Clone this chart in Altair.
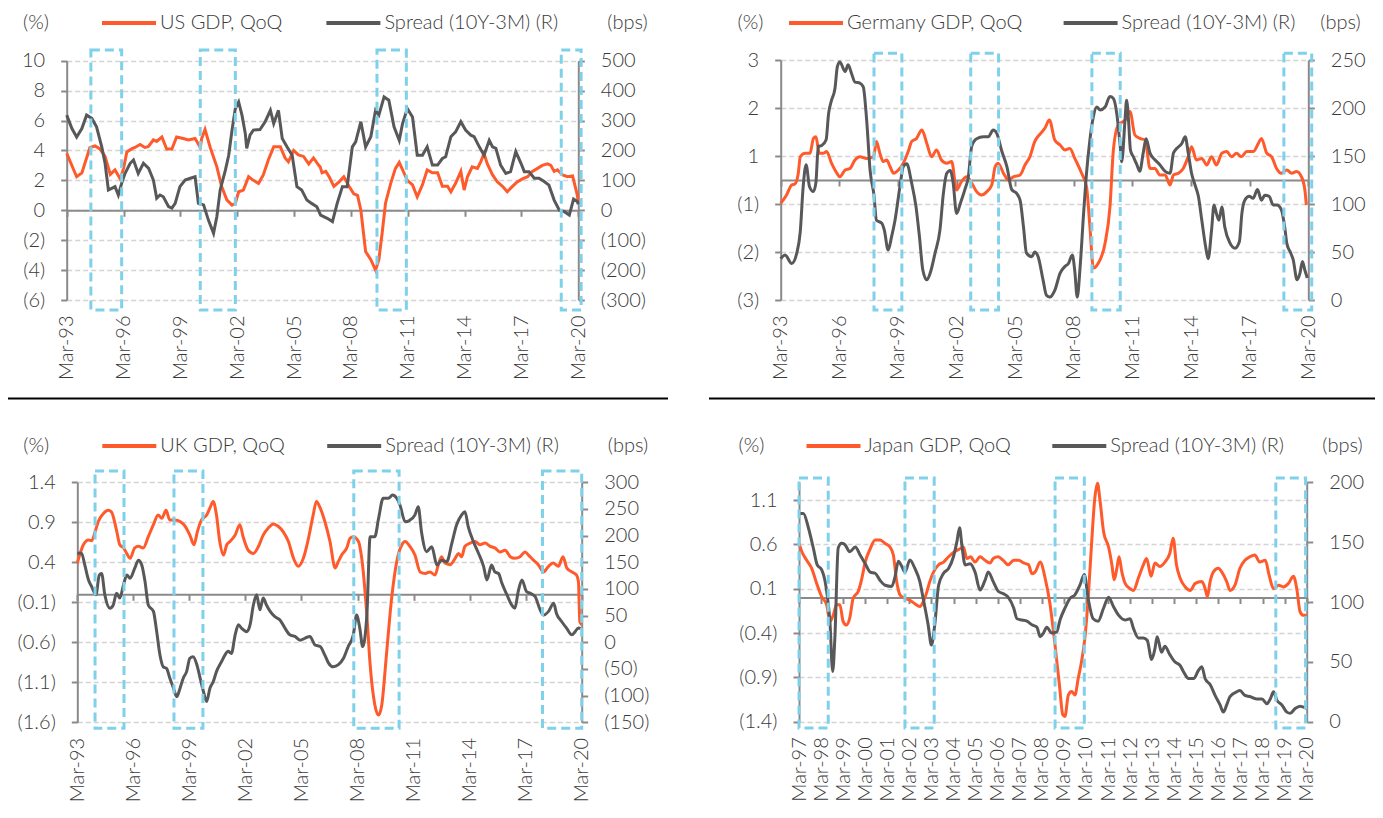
import altair as alt
import pandas as pd

# ---------------- data (quarter index since first label, value) ----------------
X_LABELS_3Y = ['Mar-93', 'Mar-96', 'Mar-99', 'Mar-02', 'Mar-05', 'Mar-08',
               'Mar-11', 'Mar-14', 'Mar-17', 'Mar-20']
X_LABELS_JP = ['Mar-97', 'Mar-98', 'Mar-99', 'Mar-00', 'Mar-01', 'Mar-02', 'Mar-03',
               'Mar-04', 'Mar-05', 'Mar-06', 'Mar-07', 'Mar-08', 'Mar-09', 'Mar-10',
               'Mar-11', 'Mar-12', 'Mar-13', 'Mar-14', 'Mar-15', 'Mar-16', 'Mar-17',
               'Mar-18', 'Mar-19', 'Mar-20']

US_GDP = [(0, 3.8), (2.1, 2.24), (3.2, 2.5), (4.9, 4.2), (6.0, 4.3), (7.0, 4.1), (8.1, 3.6),
          (9.2, 2.4), (10.2, 2.7), (11.3, 2.1), (12.0, 2.8), (12.7, 3.9), (13.7, 4.1),
          (14.4, 4.2), (15.5, 4.4), (16.5, 4.2), (17.2, 4.25), (18.3, 4.7), (19.0, 4.6),
          (20.1, 4.9), (21.1, 4.1), (22.2, 4.1), (23.2, 4.9), (24.6, 4.8), (25.7, 4.7),
          (27.1, 4.8), (28.2, 4.2), (28.5, 4.8), (29.2, 5.4), (30.3, 4.2), (31.7, 2.9),
          (32.7, 1.6), (33.8, 0.7), (34.9, 0.35), (35.6, 0.47), (36.3, 1.24), (37.3, 1.35),
          (38.4, 2.24), (39.4, 2.0), (40.5, 1.8), (41.5, 2.36), (42.6, 3.4), (43.7, 4.24),
          (45.1, 4.24), (46.1, 3.5), (46.8, 3.24), (47.9, 4.0), (48.9, 3.7), (50.0, 3.6),
          (51.1, 3.1), (52.1, 3.5), (53.2, 3.0), (53.5, 2.9), (53.9, 2.5), (54.7, 2.6),
          (55.4, 2.24), (56.4, 1.6), (57.5, 1.9), (58.5, 2.24), (59.6, 1.6), (60.6, 1.1),
          (61.4, 1.0), (62.1, 0.0), (63.1, -2.76), (64.2, -3.3), (65.2, -4.0), (65.9, -3.3),
          (66.6, -1.5), (67.3, 0.47), (68.4, 1.8), (69.4, 2.8), (70.2, 3.2), (71.2, 2.5),
          (71.9, 2.0), (73.0, 1.7), (74.0, 0.9), (75.1, 1.7), (76.1, 2.7), (77.2, 2.5),
          (78.3, 2.5), (79.3, 1.6), (80.4, 1.6), (81.1, 1.24), (82.1, 1.8), (83.2, 2.6),
          (83.9, 1.35), (84.6, 2.24), (85.6, 2.9), (86.7, 2.8), (87.4, 3.24), (88.1, 3.8),
          (88.8, 3.1), (89.9, 2.36), (90.9, 1.9), (92.0, 1.6), (93.0, 1.24), (94.1, 1.6),
          (95.1, 1.9), (96.2, 2.1), (97.3, 2.24), (98.3, 2.6), (99.4, 2.8), (100.4, 3.0),
          (101.5, 3.1), (102.2, 3.0), (102.9, 2.6), (103.6, 2.7), (104.7, 2.36),
          (105.7, 2.24), (106.8, 2.3), (107.8, 1.0), (108.0, 0.5)]
US_SPREAD = [(0, 318), (1.1, 273), (2.1, 245), (3.2, 273), (4.2, 318), (5.3, 307), (6.3, 279),
             (7.4, 212), (8.1, 157), (8.8, 68), (9.5, 73), (10.2, 79), (10.9, 51), (11.6, 90),
             (12.3, 123), (13.4, 157), (14.1, 168), (15.1, 123), (16.2, 157), (17.3, 140),
             (18.3, 101), (19.0, 40), (19.7, 51), (20.4, 45), (21.5, 12), (22.2, 7), (22.9, 23),
             (23.9, 79), (25.0, 101), (26.1, 107), (27.1, 112), (27.8, 23), (28.9, 18),
             (29.9, -32), (31.0, -77), (31.7, -21), (32.4, 68), (33.5, 134), (34.2, 184),
             (34.9, 268), (35.6, 340), (36.3, 362), (37.0, 318), (37.7, 257), (38.0, 207),
             (38.7, 251), (39.4, 268), (40.8, 270), (41.9, 296), (43.0, 334), (43.7, 290),
             (44.7, 334), (45.5, 240), (46.5, 212), (47.6, 184), (48.6, 79), (49.6, 68),
             (50.7, 34), (51.7, 23), (52.8, 12), (53.6, -16), (55.0, -27), (56.1, -38),
             (57.1, 23), (58.2, 79), (59.2, 79), (60.3, 212), (61.0, 229), (62.1, 296),
             (63.1, 212), (64.2, 246), (65.2, 334), (65.9, 318), (67.0, 379), (68.0, 368),
             (69.1, 279), (70.2, 234), (70.9, 290), (71.9, 340), (73.0, 312), (74.0, 184),
             (75.1, 184), (76.1, 212), (77.2, 151), (78.3, 151), (79.3, 173), (80.0, 179),
             (81.1, 246), (82.1, 262), (83.2, 296), (84.2, 268), (85.3, 251), (86.0, 246),
             (87.1, 212), (88.1, 184), (89.2, 234), (89.9, 212), (90.6, 207), (91.6, 151),
             (92.7, 123), (93.7, 129), (94.8, 196), (95.9, 157), (96.6, 129), (97.6, 129),
             (98.7, 107), (99.7, 107), (100.8, 96), (101.8, 84), (102.9, 34), (104.0, 0),
             (105.0, -4), (106.1, -16), (107.0, 37), (107.8, 29), (108.0, 20)]
US_BOX_START = [5.1, 28.2, 65.5, 104.4]
US_BOX_END = [11.6, 35.6, 71.7, 108.6]

DE_GDP = [(0, -0.58), (1.2, -0.375), (2.25, -0.125), (2.9, -0.1), (3.6, 0.17), (4.0, 0.58),
          (5.0, 0.67), (6.0, 0.67), (6.7, 1.04), (7.2, 1.08), (7.9, 0.67), (8.7, 0.67),
          (9.4, 0.71), (10.4, 0.42), (11.5, 0.17), (12.1, 0.08), (13.2, 0.25), (14.2, 0.29),
          (15.2, 0.5), (16.2, 0.58), (17.6, 0.54), (19.0, 0.58), (19.6, 0.96), (20.3, 0.67),
          (21.0, 0.46), (21.7, 0.5), (22.4, 0.33), (23.1, 0.17), (24.1, 0.25), (25.1, 0.42),
          (26.1, 0.71), (26.8, 0.96), (27.8, 1.04), (28.9, 1.25), (29.9, 0.92), (30.9, 0.58),
          (31.9, 0.75), (32.9, 0.5), (34.0, 0.42), (35.0, 0.46), (36.0, -0.25), (37.0, -0.04),
          (38.1, 0.08), (39.1, -0.08), (40.1, -0.29), (41.1, -0.375), (42.2, -0.29),
          (43.2, -0.125), (43.9, 0.33), (44.5, 0.42), (45.6, 0.17), (46.6, 0.0), (47.6, 0.08),
          (49.0, 0.125), (50.0, 0.375), (51.0, 0.58), (52.0, 0.96), (53.1, 1.15), (54.1, 1.3),
          (55.0, 1.5), (56.1, 1.0), (57.2, 0.875), (58.2, 0.75), (59.2, 0.79), (60.2, 0.54),
          (61.6, 0.17), (62.6, -0.17), (63.3, -1.17), (64.0, -2.2), (65.0, -2.08),
          (66.4, -1.58), (67.4, -0.67), (68.1, 0.75), (69.1, 1.375), (70.5, 1.5), (71.5, 1.71),
          (72.5, 1.125), (73.5, 1.04), (74.6, 1.0), (75.6, 0.29), (76.6, 0.29), (77.6, 0.125),
          (78.7, 0.125), (79.7, -0.125), (80.4, 0.125), (81.4, 0.17), (82.4, 0.29),
          (83.4, 0.58), (84.1, 0.83), (85.1, 0.5), (86.2, 0.54), (87.2, 0.375), (88.2, 0.58),
          (89.2, 0.375), (90.3, 0.67), (91.3, 0.71), (92.3, 0.58), (93.3, 0.67), (94.3, 0.58),
          (95.4, 0.71), (96.7, 0.71), (97.8, 0.92), (98.4, 1.04), (99.5, 0.67), (100.5, 0.58),
          (101.5, 0.29), (102.5, 0.17), (103.6, 0.25), (104.6, 0.17), (105.6, 0.21),
          (106.6, 0.08), (107.3, -0.25), (107.6, -0.625)]
DE_SPREAD = [(0, 43), (0.9, 47), (2.25, 38), (3.3, 49), (4.0, 71), (4.6, 118), (5.2, 141),
             (5.9, 118), (6.7, 113), (7.2, 122), (7.7, 160), (8.4, 161), (9.3, 167), (9.8, 194),
             (10.4, 208), (11.1, 220), (11.6, 243), (12.1, 248), (13.2, 238), (13.8, 245),
             (14.5, 236), (15.2, 227), (16.2, 226), (16.9, 222), (17.6, 187), (18.3, 135),
             (19.1, 109), (19.6, 83), (20.7, 80), (21.2, 73), (22.0, 52), (22.7, 66), (23.4, 83),
             (24.4, 118), (25.1, 139), (25.8, 142), (26.8, 122), (27.7, 97), (28.4, 66),
             (29.1, 31), (29.9, 21), (30.6, 28), (31.6, 49), (32.6, 73), (33.3, 111),
             (34.0, 132), (34.7, 135), (35.3, 122), (36.0, 90), (36.8, 101), (37.7, 115),
             (38.4, 128), (39.1, 160), (40.1, 168), (41.5, 170), (42.5, 170), (43.5, 177),
             (44.2, 174), (45.2, 156), (46.3, 139), (47.3, 115), (48.3, 111), (49.0, 104),
             (49.7, 76), (50.3, 49), (51.4, 45), (52.0, 50), (52.7, 45), (53.7, 21), (54.4, 5),
             (55.1, 3), (56.1, 10), (57.2, 28), (58.2, 35), (58.9, 38), (59.7, 47), (60.2, 30),
             (60.7, 3), (61.3, 35), (62.0, 90), (62.6, 132), (63.3, 167), (64.0, 191),
             (64.7, 201), (65.4, 198), (66.4, 201), (67.4, 212), (68.1, 210), (68.8, 194),
             (69.5, 160), (69.8, 144), (70.5, 189), (70.8, 208), (71.2, 187), (71.6, 156),
             (72.2, 149), (72.9, 141), (73.5, 134), (74.2, 153), (74.8, 168), (75.6, 153),
             (76.6, 146), (77.6, 141), (78.7, 134), (79.7, 132), (80.4, 153), (81.1, 158),
             (82.1, 163), (82.8, 170), (83.4, 154), (84.1, 132), (84.8, 120), (85.5, 108),
             (86.2, 83), (87.0, 55), (87.5, 43), (88.2, 73), (88.7, 99), (89.2, 90), (89.7, 83),
             (90.3, 97), (90.9, 76), (92.0, 59), (93.0, 54), (93.9, 61), (94.4, 90), (95.0, 104),
             (95.9, 108), (96.7, 106), (97.6, 115), (98.4, 104), (99.1, 109), (100.0, 108),
             (100.8, 99), (101.6, 99), (102.5, 94), (103.2, 75), (103.6, 59), (104.4, 49),
             (104.9, 42), (105.7, 21), (106.3, 28), (106.8, 40), (107.3, 31), (107.8, 23)]
DE_BOX_START = [19.1, 38.9, 63.7, 103.0]
DE_BOX_END = [24.8, 44.6, 69.5, 108.7]

UK_GDP = [(0, 0.39), (0.6, 0.51), (1.3, 0.62), (2.4, 0.68), (3.1, 0.67), (3.8, 0.78), (4.5, 0.91),
          (5.6, 1.01), (6.6, 1.05), (7.3, 1.03), (8.4, 0.8), (9.1, 0.62), (9.9, 0.58),
          (10.6, 0.51), (11.3, 0.45), (12.3, 0.58), (13.1, 0.6), (14.1, 0.58), (15.2, 0.72),
          (16.3, 0.87), (17.3, 0.99), (18.1, 0.95), (19.0, 1.05), (19.8, 0.93), (20.9, 0.93),
          (22.0, 0.91), (23.1, 0.85), (24.1, 0.74), (25.0, 0.62), (25.7, 0.78), (26.6, 0.93),
          (27.7, 0.99), (28.4, 1.08), (29.1, 1.16), (29.8, 0.99), (30.5, 0.66), (31.3, 0.49),
          (32.0, 0.62), (32.7, 0.66), (33.8, 0.74), (34.8, 0.87), (35.5, 0.72), (36.6, 0.55),
          (37.7, 0.51), (38.8, 0.6), (39.8, 0.74), (40.9, 0.83), (42.0, 0.88), (43.0, 0.85),
          (44.1, 0.78), (45.2, 0.66), (46.3, 0.45), (47.3, 0.35), (48.4, 0.45), (49.5, 0.7),
          (50.5, 0.99), (51.2, 1.16), (52.0, 1.08), (53.0, 0.91), (54.1, 0.66), (55.2, 0.33),
          (55.9, 0.41), (56.6, 0.49), (57.7, 0.58), (58.4, 0.7), (59.1, 0.72), (60.2, 0.66),
          (60.9, 0.45), (62.0, -0.26), (62.7, -0.88), (63.7, -1.38), (64.5, -1.51),
          (65.2, -1.38), (66.2, -0.75), (67.3, -0.05), (68.4, 0.41), (69.5, 0.62), (70.2, 0.66),
          (71.2, 0.6), (72.3, 0.49), (73.4, 0.28), (74.5, 0.26), (75.5, 0.28), (76.6, 0.24),
          (77.3, 0.37), (78.0, 0.47), (78.7, 0.39), (79.8, 0.37), (80.9, 0.45), (81.6, 0.51),
          (82.3, 0.47), (83.0, 0.6), (84.1, 0.64), (85.2, 0.66), (86.2, 0.62), (87.3, 0.64),
          (88.4, 0.6), (89.4, 0.58), (90.5, 0.53), (91.6, 0.55), (92.7, 0.47), (93.7, 0.45),
          (94.8, 0.47), (95.9, 0.53), (96.6, 0.49), (97.6, 0.43), (98.7, 0.37), (99.8, 0.28),
          (100.9, 0.35), (101.9, 0.39), (103.0, 0.35), (104.0, 0.47), (104.8, 0.33),
          (105.9, 0.28), (106.9, 0.24), (107.3, 0.16), (107.6, -0.34), (108.0, -0.38)]
UK_SPREAD = [(0, 167), (0.9, 167), (1.6, 145), (2.4, 117), (3.1, 104), (4.0, 89), (4.7, 126),
             (5.2, 129), (5.9, 89), (7.0, 64), (7.7, 70), (8.4, 92), (9.1, 83), (9.9, 108),
             (10.6, 126), (11.3, 120), (12.3, 139), (13.1, 154), (13.8, 145), (14.5, 114),
             (15.2, 70), (16.3, 58), (17.0, 20), (17.7, -24), (18.4, -46), (19.1, -49),
             (19.8, -67), (20.6, -86), (21.3, -102), (22.0, -86), (22.7, -67), (23.4, -55),
             (24.1, -30), (24.8, -27), (25.6, -42), (26.3, -67), (27.0, -92), (27.7, -111),
             (28.4, -86), (29.1, -74), (29.8, -55), (30.9, -36), (31.6, -24), (32.3, -17),
             (33.0, -21), (33.8, 14), (34.5, 33), (35.2, 26), (36.3, 20), (37.0, 33), (37.7, 70),
             (38.4, 89), (39.1, 61), (39.8, 83), (40.5, 70), (41.3, 58), (42.3, 48), (43.4, 42),
             (44.5, 26), (45.5, 14), (46.6, 11), (47.7, 4), (48.8, 8), (49.8, 11), (50.9, -5),
             (52.0, -8), (53.0, -24), (53.8, -39), (54.8, -46), (55.9, -42), (57.0, -30),
             (58.0, -8), (59.1, 14), (59.8, 51), (60.5, 26), (61.1, -8), (62.0, 51), (62.7, 198),
             (63.7, 198), (64.5, 232), (65.5, 270), (66.6, 270), (67.5, 276), (68.4, 270),
             (69.1, 257), (70.2, 226), (71.2, 229), (72.3, 239), (73.0, 254), (73.7, 207),
             (74.8, 170), (75.9, 179), (77.0, 145), (78.0, 154), (79.1, 151), (80.2, 186),
             (81.2, 220), (82.3, 239), (83.0, 245), (83.7, 217), (84.8, 189), (85.9, 167),
             (87.0, 142), (87.7, 117), (88.7, 145), (89.4, 132), (90.2, 129), (90.9, 111),
             (92.0, 89), (93.0, 70), (93.7, 64), (94.4, 95), (95.2, 117), (96.2, 95), (97.0, 92),
             (98.0, 86), (99.1, 61), (99.8, 51), (100.9, 58), (102.0, 73), (102.6, 54),
             (103.7, 39), (104.8, 26), (105.9, 14), (106.6, 20), (107.3, 27), (107.8, 26)]
UK_BOX_START = [3.8, 20.7, 59.2, 99.6]
UK_BOX_END = [10.0, 26.9, 68.9, 108.0]

JP_GDP = [(0, 0.61), (0.5, 0.52), (1.4, 0.42), (2.3, 0.33), (3.2, 0.16), (4.1, 0.01), (5.0, -0.08),
          (5.6, -0.27), (6.2, -0.2), (6.8, -0.08), (7.4, -0.08), (8.0, -0.27), (8.6, -0.31),
          (9.2, -0.23), (9.8, -0.01), (10.8, 0.08), (11.4, 0.22), (12.0, 0.4), (12.9, 0.55),
          (13.8, 0.65), (14.7, 0.65), (15.6, 0.61), (16.5, 0.57), (17.1, 0.48), (17.7, 0.18),
          (18.3, 0.03), (19.2, -0.01), (20.1, -0.03), (21.0, -0.07), (21.9, -0.1),
          (22.5, -0.05), (23.1, 0.05), (23.7, 0.18), (24.4, 0.29), (25.3, 0.37), (26.2, 0.4),
          (27.1, 0.46), (28.0, 0.51), (28.9, 0.54), (29.8, 0.57), (30.4, 0.44), (31.1, 0.46),
          (31.9, 0.4), (32.8, 0.46), (33.7, 0.42), (34.6, 0.39), (35.2, 0.44), (36.1, 0.46),
          (37.0, 0.42), (37.9, 0.37), (38.9, 0.42), (39.8, 0.42), (40.7, 0.39), (41.6, 0.37),
          (42.2, 0.27), (42.8, 0.29), (43.7, 0.4), (44.6, 0.22), (45.5, -0.08), (46.4, -0.54),
          (47.2, -0.99), (47.8, -1.32), (48.2, -1.34), (48.8, -1.1), (49.4, -1.06), (50.0, -1.1),
          (50.6, -0.91), (51.2, -0.72), (51.8, -0.46), (52.4, -0.01), (53.0, 0.59), (53.6, 1.12),
          (54.1, 1.29), (54.5, 1.12), (55.2, 0.74), (56.1, 0.57), (56.7, 0.37), (57.1, 0.2),
          (57.6, 0.33), (58.0, 0.46), (58.5, 0.29), (59.1, 0.16), (60.0, 0.1), (60.6, 0.08),
          (61.5, 0.22), (62.4, 0.37), (63.0, 0.44), (63.8, 0.24), (64.5, 0.39), (65.4, 0.35),
          (66.3, 0.4), (67.2, 0.5), (67.8, 0.67), (68.4, 0.37), (69.05, 0.22), (70.0, 0.12),
          (70.9, 0.08), (71.8, 0.16), (73.0, 0.18), (73.6, 0.1), (74.0, 0.01), (74.5, 0.18),
          (75.1, 0.29), (76.0, 0.33), (76.6, 0.29), (77.5, 0.18), (78.1, 0.08), (79.0, 0.14),
          (79.9, 0.33), (80.8, 0.42), (81.7, 0.46), (82.6, 0.48), (83.5, 0.4), (84.5, 0.42),
          (85.2, 0.25), (86.0, 0.1), (86.9, 0.14), (87.8, 0.12), (88.7, 0.16), (89.6, 0.24),
          (90.2, 0.1), (90.8, -0.16), (91.4, -0.2), (92.0, -0.2)]
JP_SPREAD = [(0, 174), (0.8, 174), (1.7, 162), (2.6, 145), (3.3, 131), (4.1, 127), (4.7, 118),
             (5.1, 106), (5.6, 84), (6.1, 42), (6.5, 70), (7.1, 145), (7.7, 149), (8.3, 148),
             (9.2, 142), (10.2, 146), (11.1, 139), (12.0, 132), (12.9, 125), (13.8, 124),
             (14.7, 118), (15.6, 114), (16.8, 113), (17.4, 121), (18.0, 134), (18.6, 130),
             (19.2, 125), (20.1, 135), (21.0, 128), (21.9, 117), (22.5, 103), (23.4, 81),
             (24.0, 64), (24.6, 81), (25.3, 114), (26.2, 124), (27.1, 128), (28.0, 138),
             (28.6, 150), (29.1, 162), (29.5, 148), (30.1, 131), (31.0, 132), (31.9, 125),
             (32.8, 110), (33.7, 118), (34.3, 125), (35.2, 117), (36.1, 109), (37.0, 107),
             (37.9, 104), (38.9, 95), (39.5, 86), (40.4, 85), (41.3, 84), (42.2, 81), (43.1, 79),
             (43.7, 71), (44.3, 74), (44.9, 79), (45.8, 74), (46.7, 75), (47.3, 85), (48.2, 95),
             (49.1, 103), (50.0, 106), (50.9, 114), (51.7, 123), (52.4, 103), (53.3, 86),
             (54.2, 84), (55.2, 95), (56.1, 104), (57.0, 96), (57.9, 89), (59.1, 85), (60.0, 86),
             (60.6, 78), (61.5, 70), (62.4, 70), (63.1, 68), (63.9, 52), (64.5, 61), (64.9, 71),
             (65.7, 58), (66.3, 63), (67.2, 56), (68.1, 50), (69.05, 47), (69.65, 42),
             (70.6, 36), (71.5, 36), (72.4, 43), (73.0, 46), (73.6, 36), (74.5, 31), (75.4, 22),
             (76.3, 14), (76.9, 8), (77.5, 14), (78.1, 21), (79.3, 25), (79.9, 26), (80.8, 22),
             (81.7, 21), (82.9, 19), (83.9, 19), (84.8, 15), (85.4, 19), (86.0, 25), (86.6, 18),
             (87.5, 14), (88.4, 8), (89.0, 7), (89.9, 11), (90.8, 13), (92.0, 11)]
JP_BOX_START = [0.0, 19.2, 46.4, 86.4]
JP_BOX_END = [5.3, 24.5, 51.7, 91.8]

# ---------------- styling ----------------
W, H = 1367, 802
ORANGE = '#FF5A2B'
GREY = '#58585A'
CYAN = '#7FD1EA'
GRID = '#D4D4D4'
AXIS = '#8A8A8A'
TEXT = '#3A3A3A'
FONT = 'Lato'
SPREAD_NAME = 'Spread (10Y-3M) (R)'

PANELS = [
    dict(gname='US GDP, QoQ', gdp=US_GDP, spr=US_SPREAD, bs=US_BOX_START, be=US_BOX_END,
         qmax=108, xstep=12, xlabels=X_LABELS_3Y, x0=58.7, x1=570.3, ytop=52.7, ybot=292,
         ldom=[-6, 10], lticks=[-6, -4, -2, 0, 2, 4, 6, 8, 10], lfmt='d',
         rdom=[-300, 500], rticks=[-300, -200, -100, 0, 100, 200, 300, 400, 500],
         box_y=(42, 302), leg_g=(92, -14), leg_s=(316.4, -14),
         pct=(-31.2, 14.5), bps=(48.7, 14.5), interp='linear'),
    dict(gname='Germany GDP, QoQ', gdp=DE_GDP, spr=DE_SPREAD, bs=DE_BOX_START, be=DE_BOX_END,
         qmax=108, xstep=12, xlabels=X_LABELS_3Y, x0=772.7, x1=1300.3, ytop=52, ybot=292,
         ldom=[-3, 3], lticks=[-3, -1.8, -0.6, 0.6, 1.8, 3], lfmt='.0f',
         rdom=[0, 250], rticks=[0, 50, 100, 150, 200, 250],
         box_y=(45.3, 302), leg_g=(779, -14), leg_s=(1053.6, -14),
         pct=(-30.7, 14.5), bps=(31.7, 14.5), interp='monotone'),
    dict(gname='UK GDP, QoQ', gdp=UK_GDP, spr=UK_SPREAD, bs=UK_BOX_START, be=UK_BOX_END,
         qmax=108, xstep=12, xlabels=X_LABELS_3Y, x0=69.3, x1=573.7, ytop=474.3, ybot=714.3,
         ldom=[-1.6, 1.4], lticks=[-1.6, -1.1, -0.6, -0.1, 0.4, 0.9, 1.4], lfmt='.1f',
         rdom=[-150, 300], rticks=[-150, -100, -50, 0, 50, 100, 150, 200, 250, 300],
         box_y=(463, 720.3), leg_g=(92.3, 409), leg_s=(317.2, 409),
         pct=(-41.6, 437), bps=(45.8, 437), interp='monotone'),
    dict(gname='Japan GDP, QoQ', gdp=JP_GDP, spr=JP_SPREAD, bs=JP_BOX_START, be=JP_BOX_END,
         qmax=92, xstep=4, xlabels=X_LABELS_JP, x0=791, x1=1298.7, ytop=474.3, ybot=713.7,
         ldom=[-1.4, 1.3], lticks=[-1.4, -0.9, -0.4, 0.1, 0.6, 1.1], lfmt='.1f',
         rdom=[0, 200], rticks=[0, 50, 100, 150, 200],
         box_y=(470, 720), leg_g=(796.5, 409), leg_s=(1042.3, 409),
         pct=(-48, 437), bps=(35.3, 437), interp='monotone'),
]


def paren_expr(fmt):
    return ("datum.value < 0 ? '(' + format(-datum.value, '%s') + ')' : format(datum.value, '%s')"
            % (fmt, fmt))


def legend(pos):
    return alt.Legend(orient='none', legendX=pos[0], legendY=pos[1], title=None,
                      symbolType='stroke', symbolSize=2916, symbolStrokeWidth=4,
                      labelFontSize=20, labelFont=FONT, labelColor=TEXT, labelLimit=400,
                      labelOffset=2, padding=0)


def panel_layers(p):
    xs = alt.Scale(domain=[0, p['qmax']], range=[p['x0'], p['x1']], nice=False, zero=False)
    yl = alt.Scale(domain=p['ldom'], range=[p['ybot'], p['ytop']], nice=False, zero=False)
    yr = alt.Scale(domain=p['rdom'], range=[p['ybot'], p['ytop']], nice=False, zero=False)
    xticks = list(range(0, p['qmax'] + 1, p['xstep']))
    lab_arr = '[' + ','.join("'%s'" % s for s in p['xlabels']) + ']'
    yzero = p['ybot'] - (0 - p['ldom'][0]) / (p['ldom'][1] - p['ldom'][0]) * (p['ybot'] - p['ytop'])

    gdf = pd.DataFrame({'q': [a for a, _ in p['gdp']], 'v': [b for _, b in p['gdp']],
                        's': p['gname']})
    sdf = pd.DataFrame({'q': [a for a, _ in p['spr']], 'v': [b for _, b in p['spr']],
                        's': SPREAD_NAME})
    bdf = pd.DataFrame({'s': p['bs'], 'e': p['be']})

    gdp = alt.Chart(gdf).mark_line(strokeWidth=3, interpolate=p['interp']).encode(
        x=alt.X('q:Q', scale=xs, title=None,
                axis=alt.Axis(orient='bottom', offset=p['ybot'] - H, values=xticks,
                              labelExpr=lab_arr + '[round(datum.value/%d)]' % p['xstep'],
                              labelAngle=-90, domain=False, ticks=False, grid=False,
                              labelPadding=15, labelFlush=False, labelOverlap=False)),
        y=alt.Y('v:Q', scale=yl, title='(%)',
                axis=alt.Axis(orient='left', offset=-p['x0'], values=p['lticks'],
                              labelExpr=paren_expr(p['lfmt']), grid=True, gridColor=GRID,
                              gridDash=[5, 3], gridWidth=1.4, domainColor=AXIS, domainWidth=2,
                              tickColor=AXIS, tickWidth=2, tickSize=6, labelPadding=16,
                              labelOverlap=False, titleAngle=0, titleX=p['pct'][0],
                              titleY=p['pct'][1], titleAlign='center', titleBaseline='middle')),
        color=alt.Color('s:N', scale=alt.Scale(domain=[p['gname']], range=[ORANGE]),
                        legend=legend(p['leg_g'])),
    )
    spr = alt.Chart(sdf).mark_line(strokeWidth=3, interpolate=p['interp']).encode(
        x=alt.X('q:Q', scale=xs, title=None,
                axis=alt.Axis(orient='bottom', offset=yzero - H,
                              values=list(range(0, p['qmax'] + 1, 12 if p['xstep'] == 12 else 4)),
                              labels=False, domain=True, domainColor=AXIS, domainWidth=2,
                              ticks=True, tickColor=AXIS, tickWidth=2, tickSize=6, grid=False)),
        y=alt.Y('v:Q', scale=yr, title='(bps)',
                axis=alt.Axis(orient='right', offset=p['x1'] - W, values=p['rticks'],
                              labelExpr=paren_expr('d'), grid=False, domainColor=AXIS,
                              domainWidth=2, tickColor=AXIS, tickWidth=2, tickSize=6,
                              labelPadding=16, labelOverlap=False, titleAngle=0,
                              titleX=p['bps'][0], titleY=p['bps'][1], titleAlign='center',
                              titleBaseline='middle')),
        color=alt.Color('s:N', scale=alt.Scale(domain=[SPREAD_NAME], range=[GREY]),
                        legend=legend(p['leg_s'])),
    )
    boxes = alt.Chart(bdf).mark_rect(fillOpacity=0, stroke=CYAN, strokeWidth=3,
                                     strokeDash=[9, 5]).encode(
        x=alt.X('s:Q', scale=xs, axis=None),
        x2='e:Q',
        y=alt.value(p['box_y'][0]),
        y2=alt.value(p['box_y'][1]),
    )
    return [gdp, spr, boxes]


one = pd.DataFrame({'a': [0]})
sep_left = alt.Chart(one).mark_rule(color='black', strokeWidth=2).encode(
    x=alt.value(0), x2=alt.value(660), y=alt.value(390.5))
sep_right = alt.Chart(one).mark_rule(color='black', strokeWidth=2).encode(
    x=alt.value(701), x2=alt.value(W), y=alt.value(390.5))

layers = [sep_left, sep_right]
for p in PANELS:
    layers += panel_layers(p)

chart = alt.layer(*layers).resolve_scale(
    x='independent', y='independent', color='independent'
).resolve_axis(
    x='independent', y='independent'
).resolve_legend(
    color='independent'
).properties(
    width=W, height=H, autosize=alt.AutoSizeParams(type='none'), padding=0,
    background='white'
).configure_view(
    strokeWidth=0
).configure_axis(
    labelFont=FONT, titleFont=FONT, labelFontSize=20, titleFontSize=20,
    labelColor=TEXT, titleColor=TEXT, labelFontWeight=300, titleFontWeight=300
).configure_legend(
    labelFont=FONT, labelFontSize=20, labelColor=TEXT, labelFontWeight=300
)

chart.save('out.html', embed_options={'renderer': 'svg', 'actions': False})
